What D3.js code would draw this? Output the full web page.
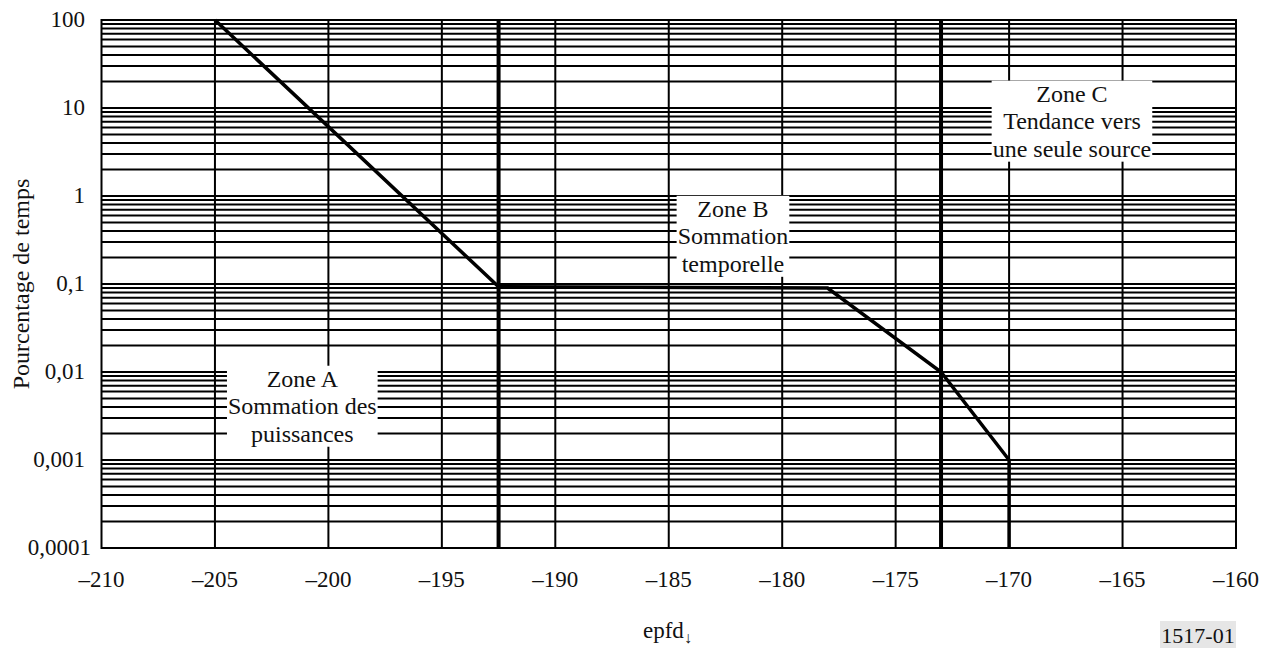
<!DOCTYPE html>
<html>
<head>
<meta charset="utf-8">
<script src="https://cdn.jsdelivr.net/npm/d3@7"></script>
<style>
    body { margin: 0; background: #fff; }
    svg text { font-family: "Liberation Serif", "DejaVu Serif", serif; }
</style>
</head>
<body>
<svg id="chart"></svg>
<script>
// curve: epfd (dB) vs percentage of time
const curveX = [-205, -192.5, -178, -173, -170, -170];
const curveY = [100, 0.093, 0.09, 0.01, 0.001, 0.0001];

const xTicks = [-210, -205, -200, -195, -190, -185, -180, -175, -170, -165, -160];
const yTicks = [100, 10, 1, 0.1, 0.01, 0.001, 0.0001];
const yTickLabels = ["100", "10", "1", "0,1", "0,01", "0,001", "0,0001"];
const zoneLimits = [-192.5, -173];

const zoneNames = ["A", "B", "C"];
const zoneLines = [
    ["Zone A", "Sommation des", "puissances"],
    ["Zone B", "Sommation", "temporelle"],
    ["Zone C", "Tendance vers", "une seule source"]
];
const zoneX = [-201.15, -182.17, -167.23];
const zoneY = [0.0068, 0.58, 11.8];

const width = 1270, height = 648;
const plotLeft = 101.5, plotRight = 1236, plotTop = 20, plotBottom = 548;

const svg = d3.select("#chart")
    .attr("width", width)
    .attr("height", height);

const x = d3.scaleLinear().domain([-210, -160]).range([plotLeft, plotRight]);
const y = d3.scaleLog().domain([0.0001, 100]).range([plotBottom, plotTop]);

// horizontal log grid: 1..9 in every decade
const hLines = [];
for (let e = -4; e < 2; e++) {
    for (let k = 1; k <= 9; k++) hLines.push(k * Math.pow(10, e));
}
svg.append("g")
    .selectAll("line")
    .data(hLines)
    .join("line")
    .attr("x1", plotLeft).attr("x2", plotRight)
    .attr("y1", d => y(d)).attr("y2", d => y(d))
    .attr("stroke", "#000")
    .attr("stroke-width", 2);

// vertical grid
svg.append("g")
    .selectAll("line")
    .data(xTicks.slice(1, -1))
    .join("line")
    .attr("x1", d => x(d)).attr("x2", d => x(d))
    .attr("y1", plotTop).attr("y2", plotBottom)
    .attr("stroke", "#000")
    .attr("stroke-width", 2);

// zone boundaries
svg.append("g")
    .selectAll("line")
    .data(zoneLimits)
    .join("line")
    .attr("x1", d => x(d)).attr("x2", d => x(d))
    .attr("y1", plotTop).attr("y2", plotBottom)
    .attr("stroke", "#000")
    .attr("stroke-width", 4);

// frame
svg.append("rect")
    .attr("x", plotLeft).attr("y", plotTop)
    .attr("width", plotRight - plotLeft).attr("height", plotBottom - plotTop)
    .attr("fill", "none")
    .attr("stroke", "#000")
    .attr("stroke-width", 2);

// the curve
const line = d3.line()
    .x((d, i) => x(curveX[i]))
    .y(d => y(d));
svg.append("path")
    .attr("d", line(curveY))
    .attr("fill", "none")
    .attr("stroke", "#000")
    .attr("stroke-width", 3.5)
    .attr("stroke-linejoin", "miter");

// zone labels on white boxes
zoneNames.forEach((name, i) => {
    const g = svg.append("g").attr("class", "zone" + name);
    const box = g.append("rect").attr("fill", "#fff");
    const txt = g.append("text")
        .attr("text-anchor", "middle")
        .attr("font-size", 24)
        .attr("fill", "#111");
    zoneLines[i].forEach((s, j) => {
        txt.append("tspan")
            .attr("x", x(zoneX[i]))
            .attr("y", y(zoneY[i]) + j * 27.5)
            .text(s);
    });
    const bb = txt.node().getBBox();
    box.attr("x", bb.x - 1).attr("y", bb.y)
        .attr("width", bb.width + 2).attr("height", bb.height);
});

// tick labels
svg.append("g")
    .selectAll("text")
    .data(xTicks)
    .join("text")
    .attr("x", d => x(d))
    .attr("y", 587)
    .attr("text-anchor", "middle")
    .attr("font-size", 23)
    .attr("fill", "#111")
    .text(d => d < 0 ? "\u2013" + Math.abs(d) : d);

svg.append("g")
    .selectAll("text")
    .data(yTicks)
    .join("text")
    .attr("x", (d, i) => i === yTicks.length - 1 ? 91 : 85)
    .attr("y", d => y(d) + 7)
    .attr("text-anchor", "end")
    .attr("font-size", 23)
    .attr("fill", "#111")
    .text((d, i) => yTickLabels[i]);

// axis titles
svg.append("text")
    .attr("transform", `translate(29, ${y(0.1)}) rotate(-90)`)
    .attr("text-anchor", "middle")
    .attr("font-size", 24)
    .attr("fill", "#111")
    .text("Pourcentage de temps");

const xt = svg.append("text")
    .attr("x", 643)
    .attr("y", 638)
    .attr("font-size", 23)
    .attr("fill", "#111");
xt.append("tspan").text("epfd");
xt.append("tspan").attr("font-size", 16).attr("dy", 5).text("\u2193");

// figure number
svg.append("rect")
    .attr("x", 1160).attr("y", 621)
    .attr("width", 76).attr("height", 27)
    .attr("fill", "#e6e6e6");
svg.append("text")
    .attr("x", 1198)
    .attr("y", 643)
    .attr("text-anchor", "middle")
    .attr("font-size", 22)
    .attr("fill", "#111")
    .text("1517-01");
</script>
</body>
</html>
